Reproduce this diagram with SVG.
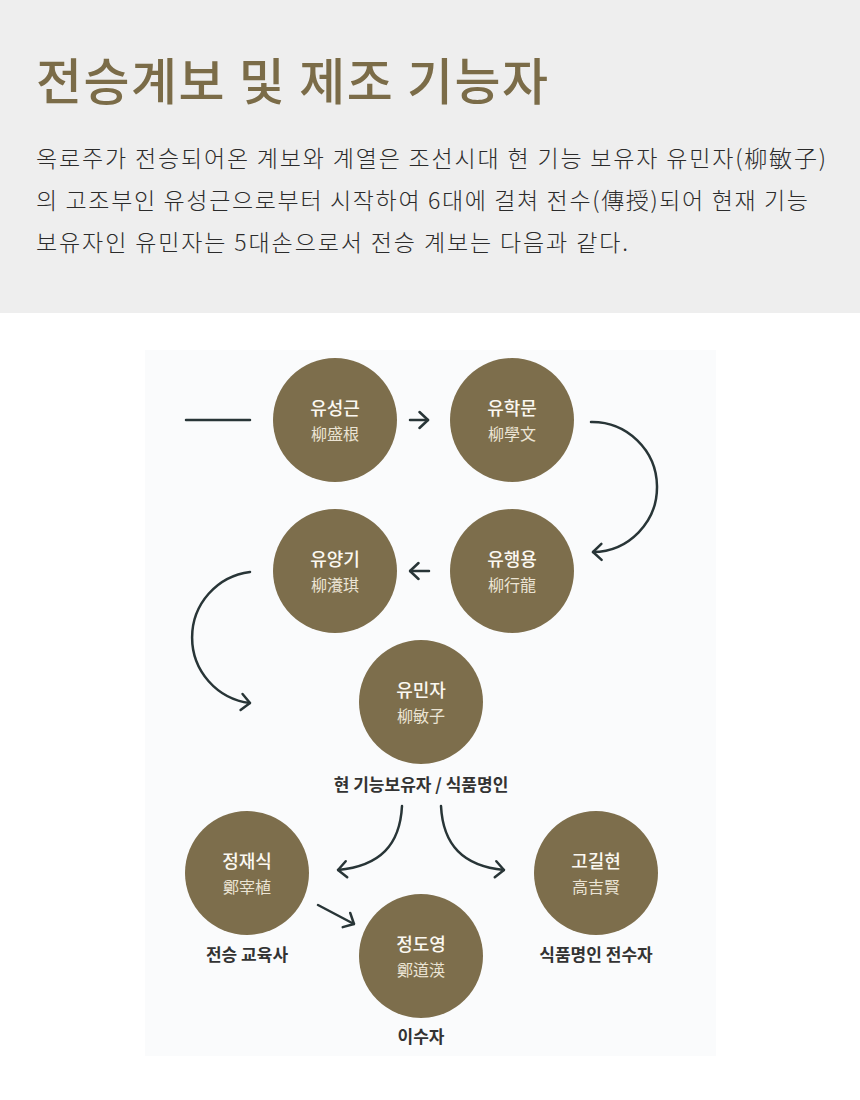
<svg xmlns="http://www.w3.org/2000/svg" width="860" height="1100" viewBox="0 0 860 1100">
<style>
.t{font-family:"Noto Sans CJK KR","Noto Sans",sans-serif}
.title{font-size:50px;font-weight:500;fill:#7b6c48}
.body{font-size:23px;font-weight:300;fill:#2b2b2b}
.node circle{fill:#7d6e4c}
.nm{font-size:18px;font-weight:500;fill:#fbf8f1;text-anchor:middle}
.hj{font-size:16px;font-weight:400;fill:#ebe4d4;text-anchor:middle}
.lbl{font-size:17px;font-weight:600;fill:#333333;text-anchor:middle}
.con{fill:none;stroke:#283537;stroke-width:2.5;stroke-linecap:round}
</style>
<defs>
<marker id="ah" markerUnits="userSpaceOnUse" viewBox="0 0 12 20" refX="10.5" refY="10" markerWidth="12" markerHeight="20" orient="auto">
<path d="M2,2 L10.5,10 L2,18" fill="none" stroke="#283537" stroke-width="2.5" stroke-linecap="round" stroke-linejoin="round"/>
</marker>
</defs>
<rect x="0" y="0" width="860" height="1100" fill="#ffffff"/>
<rect x="0" y="0" width="860" height="313" fill="#eeeeee"/>
<text class="t title" x="36" y="100" textLength="512" lengthAdjust="spacing">전승계보 및 제조 기능자</text>
<text class="t body" x="36" y="167" textLength="790" lengthAdjust="spacing">옥로주가 전승되어온 계보와 계열은 조선시대 현 기능 보유자 유민자(柳敏子)</text>
<text class="t body" x="36" y="209" textLength="772" lengthAdjust="spacing">의 고조부인 유성근으로부터 시작하여 6대에 걸쳐 전수(傳授)되어 현재 기능</text>
<text class="t body" x="36" y="251" textLength="592" lengthAdjust="spacing">보유자인 유민자는 5대손으로서 전승 계보는 다음과 같다.</text>
<rect x="145" y="350" width="571" height="706" fill="#fafbfc"/>
<g id="connectors">
<line class="con" x1="186" y1="420" x2="250" y2="420"/>
<line class="con" x1="410" y1="420" x2="428" y2="420" marker-end="url(#ah)"/>
<path class="con" d="M591,422 A65,65 0 0 1 593,552" marker-end="url(#ah)"/>
<line class="con" x1="429" y1="571" x2="410" y2="571" marker-end="url(#ah)"/>
<path class="con" d="M250,572 A66,66 0 0 0 250,703" marker-end="url(#ah)"/>
<path class="con" d="M402,806 C400,845 380,866 338,870" marker-end="url(#ah)"/>
<path class="con" d="M441,806 C443,845 463,866 504,870" marker-end="url(#ah)"/>
<line class="con" x1="318" y1="905" x2="354" y2="924" marker-end="url(#ah)"/>
</g>
<g id="n1" class="node"><circle cx="335" cy="420" r="62"/><text class="t nm" x="335" y="415">유성근</text><text class="t hj" x="335" y="440">柳盛根</text></g>
<g id="n2" class="node"><circle cx="512" cy="420" r="62"/><text class="t nm" x="512" y="415">유학문</text><text class="t hj" x="512" y="440">柳學文</text></g>
<g id="n3" class="node"><circle cx="512" cy="571" r="62"/><text class="t nm" x="512" y="566">유행용</text><text class="t hj" x="512" y="591">柳行龍</text></g>
<g id="n4" class="node"><circle cx="335" cy="571" r="62"/><text class="t nm" x="335" y="566">유양기</text><text class="t hj" x="335" y="591">柳瀁琪</text></g>
<g id="n5" class="node"><circle cx="421" cy="702" r="62"/><text class="t nm" x="421" y="697">유민자</text><text class="t hj" x="421" y="722">柳敏子</text><text class="t lbl" x="421" y="791">현 기능보유자 / 식품명인</text></g>
<g id="n6" class="node"><circle cx="247" cy="873" r="62"/><text class="t nm" x="247" y="868">정재식</text><text class="t hj" x="247" y="893">鄭宰植</text><text class="t lbl" x="247" y="961">전승 교육사</text></g>
<g id="n7" class="node"><circle cx="421" cy="956" r="62"/><text class="t nm" x="421" y="951">정도영</text><text class="t hj" x="421" y="976">鄭道渶</text><text class="t lbl" x="421" y="1043">이수자</text></g>
<g id="n8" class="node"><circle cx="596" cy="873" r="62"/><text class="t nm" x="596" y="868">고길현</text><text class="t hj" x="596" y="893">高吉賢</text><text class="t lbl" x="596" y="961">식품명인 전수자</text></g>
</svg>
